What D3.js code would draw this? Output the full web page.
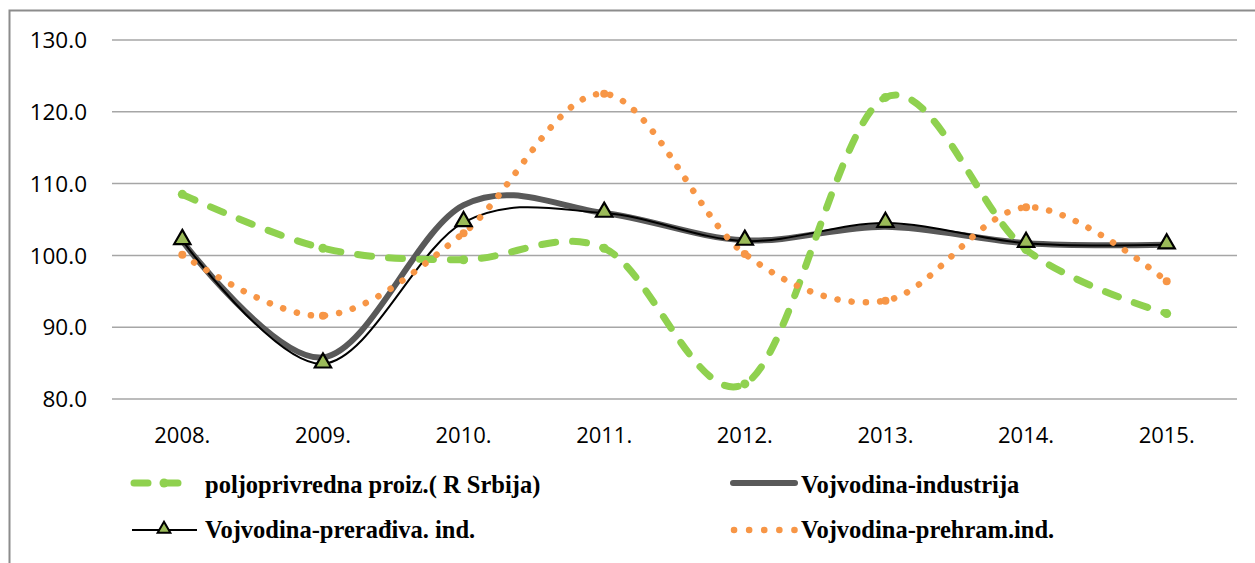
<!DOCTYPE html>
<html>
<head>
<meta charset="utf-8">
<script src="https://cdn.jsdelivr.net/npm/d3@7"></script>
<style>
  body { margin: 0; background: #fff; }
  svg { display: block; }
</style>
</head>
<body>
<svg id="chart" width="1255" height="563"></svg>
<script>
// Data
const years = ["2008.", "2009.", "2010.", "2011.", "2012.", "2013.", "2014.", "2015."];
const poljoprivreda = [108.5, 101.0, 99.4, 101.0, 82.1, 122.0, 100.8, 91.9];
const industrija = [102.0, 85.8, 107.0, 105.9, 102.1, 104.0, 101.7, 101.5];
const preradiva = [102.1, 84.9, 104.6, 105.9, 102.0, 104.5, 101.7, 101.5];
const prehram = [100.1, 91.6, 103.1, 122.5, 100.2, 93.7, 106.7, 96.4];
const yTicks = [80, 90, 100, 110, 120, 130];

const svg = d3.select("#chart");

// frame
svg.append("path")
  .attr("d", "M9.5,563 V10.5 H1255")
  .attr("fill", "none")
  .attr("stroke", "#8c8c8c")
  .attr("stroke-width", 2);

const x = d3.scalePoint().domain(years).range([112, 1237]).padding(0.5);
const y = d3.scaleLinear().domain([80, 130]).range([399, 40]);

// gridlines
svg.append("g")
  .selectAll("line")
  .data(yTicks)
  .join("line")
  .attr("x1", 112)
  .attr("x2", 1237)
  .attr("y1", d => y(d))
  .attr("y2", d => y(d))
  .attr("stroke", "#a6a6a6")
  .attr("stroke-width", 1.5);

// y labels
svg.append("g")
  .selectAll("text")
  .data(yTicks)
  .join("text")
  .attr("x", 87)
  .attr("y", d => y(d))
  .attr("dy", "0.36em")
  .attr("text-anchor", "end")
  .attr("font-family", "Open Sans, Liberation Sans, sans-serif")
  .attr("font-size", 22.5)
  .attr("fill", "#000")
  .text(d => d.toFixed(1));

// x labels
svg.append("g")
  .selectAll("text")
  .data(years)
  .join("text")
  .attr("x", d => x(d))
  .attr("y", 443)
  .attr("text-anchor", "middle")
  .attr("font-family", "Open Sans, Liberation Sans, sans-serif")
  .attr("font-size", 22)
  .attr("fill", "#000")
  .text(d => d);

const line = d3.line()
  .x((d, i) => x(years[i]))
  .y(d => y(d))
  .curve(d3.curveCardinal.tension(0));

const GREEN = "#8fd14f";
const ORANGE = "#f79646";
const GRAY = "#595959";
const TRI_FILL = "#9bbb59";

// industrija (thick gray)
svg.append("path")
  .datum(industrija)
  .attr("d", line)
  .attr("fill", "none")
  .attr("stroke", GRAY)
  .attr("stroke-width", 6)
  .attr("stroke-linecap", "round");

// preradiva (thin black with triangles)
svg.append("path")
  .datum(preradiva)
  .attr("d", line)
  .attr("fill", "none")
  .attr("stroke", "#000")
  .attr("stroke-width", 2);

const tri = d3.symbol().type(d3.symbolTriangle).size(115);

// poljoprivreda (green long dash)
svg.append("path")
  .datum(poljoprivreda)
  .attr("d", line)
  .attr("fill", "none")
  .attr("stroke", GREEN)
  .attr("stroke-width", 7)
  .attr("stroke-linecap", "round")
  .attr("stroke-dasharray", "14,17");

svg.append("g")
  .selectAll("circle")
  .data(poljoprivreda)
  .join("circle")
  .attr("cx", (d, i) => x(years[i]))
  .attr("cy", d => y(d))
  .attr("r", 4.5)
  .attr("fill", GREEN);

// prehram (orange dots)
svg.append("path")
  .datum(prehram)
  .attr("d", line)
  .attr("fill", "none")
  .attr("stroke", ORANGE)
  .attr("stroke-width", 6.5)
  .attr("stroke-linecap", "round")
  .attr("stroke-dasharray", "0.1,14.2");

svg.append("g")
  .selectAll("circle")
  .data(prehram)
  .join("circle")
  .attr("cx", (d, i) => x(years[i]))
  .attr("cy", d => y(d))
  .attr("r", 4)
  .attr("fill", ORANGE);

// triangles on top
svg.append("g")
  .selectAll("path")
  .data(preradiva)
  .join("path")
  .attr("d", tri)
  .attr("transform", (d, i) => `translate(${x(years[i])},${y(d) - 1})`)
  .attr("fill", TRI_FILL)
  .attr("stroke", "#000")
  .attr("stroke-width", 2.2);

// Legend
const legendItems = [
  { name: "poljoprivredna proiz.( R Srbija)", kind: "green", lx: 131, tx: 205, ly: 483, ty: 493 },
  { name: "Vojvodina-industrija", kind: "gray", lx: 731, tx: 801, ly: 483, ty: 493 },
  { name: "Vojvodina-prerađiva. ind.", kind: "tri", lx: 132, tx: 205, ly: 530, ty: 538 },
  { name: "Vojvodina-prehram.ind.", kind: "orange", lx: 731, tx: 801, ly: 530, ty: 538 }
];

const legend = svg.append("g").attr("class", "legend");

legendItems.forEach(d => {
  const g = legend.append("g");
  const x1 = d.lx, x2 = d.lx + 66, mid = (x1 + x2) / 2;
  if (d.kind === "green") {
    g.append("line").attr("x1", x1 + 3).attr("x2", x2 - 3).attr("y1", d.ly).attr("y2", d.ly)
      .attr("stroke", GREEN).attr("stroke-width", 7).attr("stroke-linecap", "round")
      .attr("stroke-dasharray", "14,16");
    g.append("circle").attr("cx", mid).attr("cy", d.ly).attr("r", 4.5).attr("fill", GREEN);
  } else if (d.kind === "gray") {
    g.append("line").attr("x1", x1 + 2).attr("x2", x2 - 2).attr("y1", d.ly).attr("y2", d.ly)
      .attr("stroke", GRAY).attr("stroke-width", 6).attr("stroke-linecap", "round");
  } else if (d.kind === "tri") {
    g.append("line").attr("x1", x1).attr("x2", x2 - 1).attr("y1", d.ly).attr("y2", d.ly)
      .attr("stroke", "#000").attr("stroke-width", 2);
    g.append("path").attr("d", d3.symbol().type(d3.symbolTriangle).size(70))
      .attr("transform", `translate(${mid - 1},${d.ly - 1})`)
      .attr("fill", TRI_FILL).attr("stroke", "#000").attr("stroke-width", 2);
  } else {
    g.append("line").attr("x1", x1 + 3).attr("x2", x2 - 2).attr("y1", d.ly).attr("y2", d.ly)
      .attr("stroke", ORANGE).attr("stroke-width", 6.5).attr("stroke-linecap", "round")
      .attr("stroke-dasharray", "0.1,15");
  }
  g.append("text")
    .attr("x", d.tx)
    .attr("y", d.ty)
    .attr("font-family", "Liberation Serif, Times New Roman, serif")
    .attr("font-weight", "bold")
    .attr("font-size", 24.5)
    .attr("fill", "#000")
    .text(d.name);
});
</script>
</body>
</html>
